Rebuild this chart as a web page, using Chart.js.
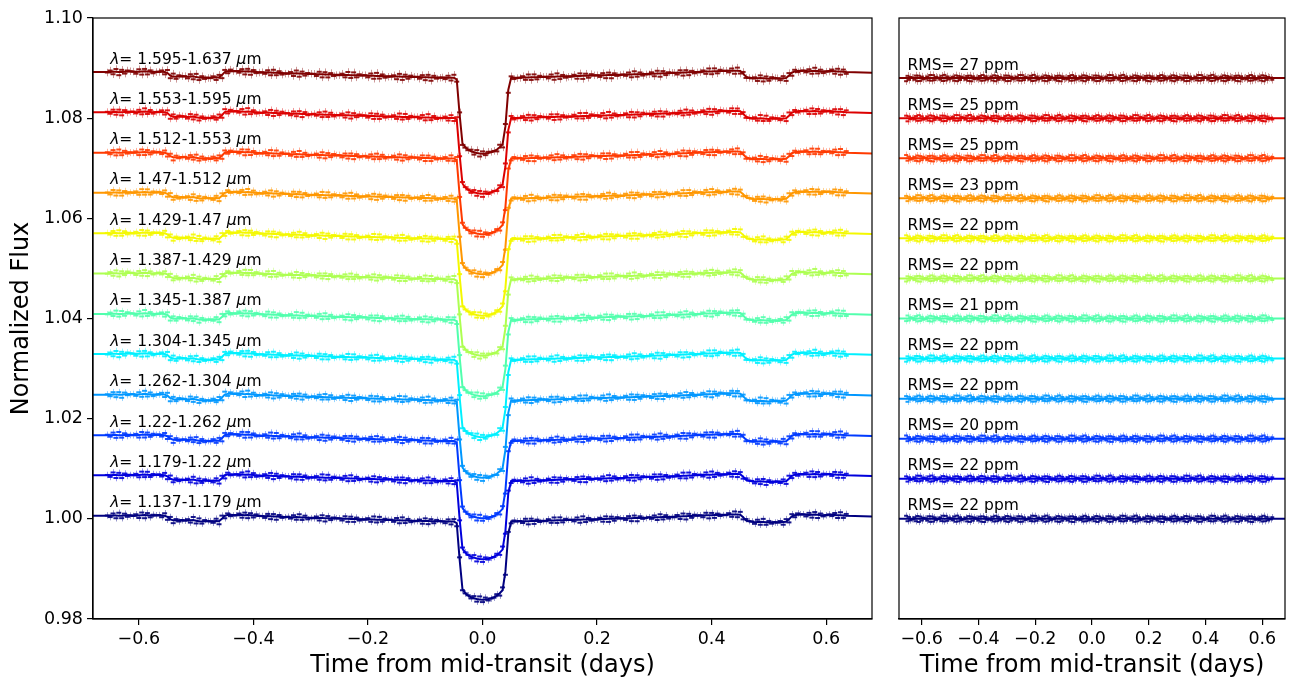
<!DOCTYPE html>
<html>
<head>
<meta charset="utf-8">
<script src="https://cdn.jsdelivr.net/npm/chart.js@4.4.1/dist/chart.umd.min.js"></script>
<style>
  html, body { margin: 0; padding: 0; background: #fff; }
  #wrap { position: relative; width: 1291px; height: 683px; overflow: hidden; }
  #lc { position: absolute; left: 0; top: 0; }
  #res { position: absolute; left: 880px; top: 0; }
</style>
</head>
<body>
<div id="wrap">
  <canvas id="lc" width="880" height="683"></canvas>
  <canvas id="res" width="411" height="683"></canvas>
</div>
<script>
// wavelength bins, bluest first (bottom curve first)
const bands = ['1.137-1.179', '1.179-1.22', '1.22-1.262', '1.262-1.304', '1.304-1.345', '1.345-1.387',
               '1.387-1.429', '1.429-1.47', '1.47-1.512', '1.512-1.553', '1.553-1.595', '1.595-1.637'];
const rmsPpm = [22, 22, 20, 22, 22, 21, 22, 22, 23, 25, 25, 27];

// out-of-transit level of each light curve (left panel) and residual offsets (right panel)
const baseLeft = [1.0006, 1.0087, 1.0167, 1.0248, 1.0329, 1.0409, 1.0490, 1.0570, 1.0651, 1.0731, 1.0812, 1.0892];
const baseRight = [1.000, 1.008, 1.016, 1.024, 1.032, 1.040, 1.048, 1.056, 1.064, 1.072, 1.080, 1.088];
const depthScale = [1.00, 1.00, 0.99, 0.99, 0.99, 0.98, 0.98, 0.98, 0.97, 0.97, 0.97, 0.97];
const errPpm = [650, 650, 650, 650, 650, 650, 650, 650, 650, 700, 700, 750];

// observation times (days from mid-transit)
const times = [
  -0.655,-0.65,-0.645,-0.64,-0.635,-0.63,-0.625,-0.62,-0.615,-0.61,-0.605,-0.6,-0.595,-0.59,-0.585,-0.58,-0.575,-0.57,-0.565,-0.56,
  -0.555,-0.55,-0.545,-0.54,-0.535,-0.53,-0.525,-0.52,-0.515,-0.51,-0.505,-0.5,-0.495,-0.49,-0.485,-0.48,-0.475,-0.47,-0.465,-0.46,
  -0.455,-0.45,-0.445,-0.44,-0.435,-0.43,-0.425,-0.42,-0.415,-0.41,-0.405,-0.4,-0.395,-0.39,-0.385,-0.38,-0.375,-0.37,-0.365,-0.36,
  -0.355,-0.35,-0.345,-0.34,-0.335,-0.33,-0.325,-0.32,-0.315,-0.31,-0.305,-0.3,-0.295,-0.29,-0.285,-0.28,-0.275,-0.27,-0.265,-0.26,
  -0.255,-0.25,-0.245,-0.24,-0.235,-0.23,-0.225,-0.22,-0.215,-0.21,-0.205,-0.2,-0.195,-0.19,-0.185,-0.18,-0.175,-0.17,-0.165,-0.16,
  -0.155,-0.15,-0.145,-0.14,-0.135,-0.13,-0.125,-0.12,-0.115,-0.11,-0.105,-0.1,-0.095,-0.09,-0.085,-0.08,-0.075,-0.07,-0.065,-0.06,
  -0.055,-0.05,-0.045,-0.04,-0.035,-0.03,-0.025,-0.02,-0.015,-0.01,-0.005,0,0.005,0.01,0.015,0.02,0.025,0.03,0.035,0.04,
  0.045,0.05,0.055,0.06,0.065,0.07,0.075,0.08,0.085,0.09,0.095,0.1,0.105,0.11,0.115,0.12,0.125,0.13,0.135,0.14,
  0.145,0.15,0.155,0.16,0.165,0.17,0.175,0.18,0.185,0.19,0.195,0.2,0.205,0.21,0.215,0.22,0.225,0.23,0.235,0.24,
  0.245,0.25,0.255,0.26,0.265,0.27,0.275,0.28,0.285,0.29,0.295,0.3,0.305,0.31,0.315,0.32,0.325,0.33,0.335,0.34,
  0.345,0.35,0.355,0.36,0.365,0.37,0.375,0.38,0.385,0.39,0.395,0.4,0.405,0.41,0.415,0.42,0.425,0.43,0.435,0.44,
  0.445,0.45,0.455,0.46,0.465,0.47,0.475,0.48,0.485,0.49,0.495,0.5,0.505,0.51,0.515,0.52,0.525,0.53,0.535,0.54,
  0.545,0.55,0.555,0.56,0.565,0.57,0.575,0.58,0.585,0.59,0.595,0.6,0.605,0.61,0.615,0.62,0.625,0.63,0.635
];

// systematics / spot-crossing shape common to all bins (ppm)
const sysPpm = [
  0,0,50,50,0,0,50,100,100,50,0,50,100,150,100,50,0,50,100,50,
  0,-200,-700,-900,-950,-900,-850,-900,-950,-900,-850,-1000,-1100,-1150,-1100,-1100,-1150,-1100,-1050,-1100,
  -600,0,150,200,150,150,200,150,100,150,100,50,0,-50,-100,-100,-50,-100,-150,-150,
  -200,-200,-250,-250,-300,-300,-250,-300,-350,-350,-400,-400,-400,-450,-450,-450,-500,-500,-500,-550,
  -550,-550,-600,-600,-600,-650,-650,-650,-700,-700,-700,-750,-750,-750,-800,-800,-800,-850,-850,-850,
  -900,-900,-900,-950,-950,-950,-1000,-1000,-1000,-1000,-1050,-1050,-1050,-1100,-1100,-1100,-1100,-1150,-1150,-1150,
  -1150,-1150,-1150,-1150,-1150,-1150,-1150,-1150,-1150,-1150,-1150,-1150,-1150,-1150,-1150,-1150,-1150,-1150,-1150,-1150,
  -1150,-1150,-1150,-1150,-1100,-1100,-1100,-1100,-1050,-1050,-1050,-1000,-1000,-1000,-950,-950,-950,-900,-900,-900,
  -850,-850,-850,-800,-800,-800,-750,-750,-750,-700,-700,-700,-650,-650,-650,-600,-600,-600,-550,-550,
  -550,-500,-500,-500,-450,-450,-450,-400,-400,-350,-350,-350,-300,-300,-250,-250,-250,-200,-200,-150,
  -150,-100,-100,-50,-50,0,0,50,50,100,100,100,150,150,200,200,200,250,250,250,
  250,200,-300,-900,-1100,-1200,-1300,-1250,-1200,-1250,-1300,-1350,-1300,-1250,-1300,-1300,-1250,-1200,-700,-100,
  100,200,250,250,200,150,200,250,200,100,100,150,200,200,150,100,100,50,0
];

// transit dip (ppm) at the in-transit times
const transitT = [-0.045,-0.04,-0.035,-0.03,-0.025,-0.02,-0.015,-0.01,-0.005,0,0.005,0.01,0.015,0.02,0.025,0.03,0.035,0.04,0.045];
const transitPpm = [-300,-7500,-13500,-14300,-14800,-15100,-15300,-15450,-15550,-15600,-15550,-15450,-15300,-15100,-14800,-14300,-13700,-10000,-2500];

// scatter about the model (ppm), one orbit-like clump per 9 exposures
const noisePpm = [
  80,-250,420,-530,610,-470,380,-300,-60,
  -90,310,-480,560,-620,450,-350,220,70,
  60,-330,510,-600,480,-560,300,-240,-50,
  -70,280,-450,620,-520,590,-400,260,40,
  90,-300,470,-580,640,-490,330,-270,-80,
  -60,260,-520,540,-610,430,-380,290,50,
  70,-320,440,-560,500,-630,360,-210,-40
];

const xTicks = [-0.6, -0.4, -0.2, 0.0, 0.2, 0.4, 0.6];
const yTicks = [0.98, 1.00, 1.02, 1.04, 1.06, 1.08, 1.10];

// jet colormap, 12 steps
const colors = ['#000080', '#0000dc', '#003aff', '#0097ff', '#00f0ff', '#51ffad',
                '#adff51', '#f4f800', '#ff9700', '#ff3a00', '#dc0000', '#800000'];

const FONT = '"DejaVu Sans", "Liberation Sans", sans-serif';
const labelT = -0.65;
const labelDy = 0.0017;

function rgba(hex, a) {
  const n = parseInt(hex.slice(1), 16);
  return `rgba(${n >> 16},${(n >> 8) & 255},${n & 255},${a})`;
}
function fmtTick(v) {
  return (v < -1e-9 ? '\u2212' : '') + Math.abs(v).toFixed(1);
}

const transitMap = new Map(transitT.map((t, i) => [t.toFixed(3), transitPpm[i]]));

// build datasets
const leftSets = [], rightSets = [];
bands.forEach((lab, b) => {
  const col = colors[b];
  const nz = j => noisePpm[(j + b * 18) % noisePpm.length] / 1e6;
  const model = times.map((t, j) => {
    const tr = (transitMap.get(t.toFixed(3)) || 0) * depthScale[b];
    return { x: t, y: baseLeft[b] + (sysPpm[j] + tr) / 1e6 };
  });
  const pts = model.map((p, j) => ({ x: p.x, y: p.y + nz(j) }));
  const res = times.map((t, j) => ({ x: t, y: baseRight[b] + nz(j + 4) }));
  const lineLeft = [{ x: -0.68, y: baseLeft[b] + sysPpm[0] / 1e6 }, ...model,
                    { x: 0.68, y: baseLeft[b] - 150 / 1e6 }];

  leftSets.push({ data: pts, err: errPpm[b] / 1e6, errColor: rgba(col, 0.4), pointStyle: 'line',
    pointRadius: 2.5, borderWidth: 2, borderColor: rgba(col, 0.9), backgroundColor: rgba(col, 0.9), order: 2 });
  leftSets.push({ data: lineLeft, showLine: true, pointRadius: 0, borderColor: col, borderWidth: 2, order: 1 });

  rightSets.push({ data: res, err: errPpm[b] / 1e6, errColor: rgba(col, 0.4), pointStyle: 'line',
    pointRadius: 2, borderWidth: 2, borderColor: rgba(col, 0.9), backgroundColor: rgba(col, 0.9), order: 2 });
  rightSets.push({ data: [{ x: -0.68, y: baseRight[b] }, { x: 0.68, y: baseRight[b] }], showLine: true,
    pointRadius: 0, borderColor: col, borderWidth: 2, order: 1 });
});

// error bars under the points
const errorBars = {
  id: 'errorBars',
  beforeDatasetsDraw(chart) {
    const { ctx, chartArea: a, scales: { x, y } } = chart;
    ctx.save();
    ctx.beginPath();
    ctx.rect(a.left, a.top, a.right - a.left, a.bottom - a.top);
    ctx.clip();
    ctx.lineWidth = 1;
    chart.data.datasets.forEach(ds => {
      if (!ds.err) return;
      ctx.strokeStyle = ds.errColor;
      ctx.beginPath();
      ds.data.forEach(p => {
        const px = Math.round(x.getPixelForValue(p.x)) + 0.5;
        ctx.moveTo(px, y.getPixelForValue(p.y + ds.err));
        ctx.lineTo(px, y.getPixelForValue(p.y - ds.err));
      });
      ctx.stroke();
    });
    ctx.restore();
  }
};

const frame = {
  id: 'frame',
  afterDraw(chart) {
    const { ctx, chartArea: a } = chart;
    ctx.save();
    ctx.strokeStyle = '#000';
    ctx.lineWidth = 1.2;
    ctx.strokeRect(a.left, a.top, a.right - a.left, a.bottom - a.top);
    ctx.restore();
  }
};

// text labels above each curve
function labelPlugin(kind) {
  return {
    id: 'labels',
    afterDatasetsDraw(chart) {
      const { ctx, scales: { x, y } } = chart;
      ctx.save();
      ctx.fillStyle = '#000';
      ctx.textBaseline = 'alphabetic';
      ctx.textAlign = 'left';
      bands.forEach((lab, b) => {
        let px = x.getPixelForValue(labelT);
        if (kind === 'left') {
          const py = y.getPixelForValue(baseLeft[b] + labelDy);
          const parts = [['italic', '\u03bb'], ['normal', '= ' + lab + ' '], ['italic', '\u03bc'], ['normal', 'm']];
          parts.forEach(([st, s]) => {
            ctx.font = `${st} 15.5px ${FONT}`;
            ctx.fillText(s, px, py);
            px += ctx.measureText(s).width;
          });
        } else {
          const py = y.getPixelForValue(baseRight[b] + labelDy);
          ctx.font = `15.5px ${FONT}`;
          ctx.fillText('RMS= ' + rmsPpm[b] + ' ppm', px, py);
        }
      });
      ctx.restore();
    }
  };
}

function xScale(title) {
  return {
    type: 'linear', min: -0.68, max: 0.68,
    afterBuildTicks: s => { s.ticks = xTicks.map(v => ({ value: v })); },
    afterFit: s => { s.height = 64; },
    ticks: { callback: v => fmtTick(v), font: { family: FONT, size: 17.5 }, color: '#000', padding: 4,
             maxRotation: 0, autoSkip: false },
    grid: { drawOnChartArea: false, tickLength: 6, color: '#000', lineWidth: 1.2 },
    border: { color: '#000', width: 1.2 },
    title: { display: true, text: title, color: '#000', font: { family: FONT, size: 24 },
             padding: { top: 0, bottom: 3 } }
  };
}

Chart.defaults.animation = false;

new Chart(document.getElementById('lc'), {
  type: 'scatter',
  data: { datasets: leftSets },
  options: {
    responsive: false, devicePixelRatio: 1,
    layout: { padding: { top: 18, right: 8, left: 0, bottom: 0 } },
    plugins: { legend: { display: false }, tooltip: { enabled: false } },
    scales: {
      x: xScale('Time from mid-transit (days)'),
      y: {
        type: 'linear', min: 0.98, max: 1.10,
        afterBuildTicks: s => { s.ticks = yTicks.map(v => ({ value: v })); },
        afterFit: s => { s.width = 93; },
        ticks: { callback: v => v.toFixed(2), font: { family: FONT, size: 17.5 }, color: '#000', padding: 4 },
        grid: { drawOnChartArea: false, tickLength: 6, color: '#000', lineWidth: 1.2 },
        border: { color: '#000', width: 1.2 },
        title: { display: true, text: 'Normalized Flux', color: '#000', font: { family: FONT, size: 24 },
                 padding: { top: 7, bottom: 0 } }
      }
    }
  },
  plugins: [errorBars, frame, labelPlugin('left')]
});

new Chart(document.getElementById('res'), {
  type: 'scatter',
  data: { datasets: rightSets },
  options: {
    responsive: false, devicePixelRatio: 1,
    layout: { padding: { top: 18, right: 3, left: 19, bottom: 0 } },
    plugins: { legend: { display: false }, tooltip: { enabled: false } },
    scales: {
      x: xScale('Time from mid-transit (days)'),
      y: { type: 'linear', min: 0.98, max: 1.10, display: false }
    }
  },
  plugins: [errorBars, frame, labelPlugin('right')]
});
</script>
</body>
</html>
